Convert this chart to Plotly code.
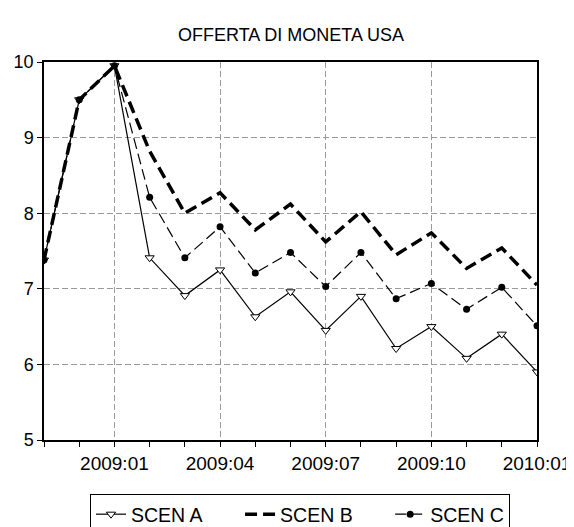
import plotly.graph_objects as go

months = ["2008:11", "2008:12", "2009:01", "2009:02", "2009:03", "2009:04", "2009:05",
          "2009:06", "2009:07", "2009:08", "2009:09", "2009:10", "2009:11", "2009:12", "2010:01"]
scen_a = [7.38, 9.50, 9.95, 7.41, 6.91, 7.25, 6.63, 6.96, 6.45, 6.90, 6.21, 6.50, 6.08, 6.40, 5.90]
scen_b = [7.38, 9.50, 9.95, 8.82, 8.00, 8.27, 7.78, 8.12, 7.62, 8.02, 7.45, 7.74, 7.27, 7.54, 7.05]
scen_c = [7.38, 9.50, 9.95, 8.21, 7.41, 7.82, 7.21, 7.48, 7.03, 7.48, 6.87, 7.07, 6.73, 7.02, 6.51]
series_names = ["SCEN A", "SCEN B", "SCEN C"]
tick_labels = ["2009:01", "2009:04", "2009:07", "2009:10", "2010:01"]
y_ticks = [5, 6, 7, 8, 9, 10]

x = list(range(len(months)))
tickvals = [months.index(m) for m in tick_labels]

FONT = "Liberation Sans, Arial, Helvetica, sans-serif"
W, H = 566, 519  # page has an 8px body margin
PAD = "\u00a0" * 6  # spacing between legend entries

fig = go.Figure()
fig.add_trace(go.Scatter(
    x=x, y=scen_a, name=series_names[0] + PAD, mode="lines+markers",
    line=dict(color="black", width=1.2),
    marker=dict(symbol="triangle-down", size=8, color="white",
                line=dict(color="black", width=1)),
))
fig.add_trace(go.Scatter(
    x=x, y=scen_b, name=series_names[1] + PAD, mode="lines",
    line=dict(color="black", width=3.5, dash="12px,6px"),
))
fig.add_trace(go.Scatter(
    x=x, y=scen_c, name=series_names[2], mode="lines+markers",
    line=dict(color="black", width=1.2, dash="11px,5px"),
    marker=dict(symbol="circle", size=7, color="black"),
))

fig.update_layout(
    width=W, height=H,
    margin=dict(l=36, r=37, t=54, b=87, autoexpand=False),
    paper_bgcolor="white", plot_bgcolor="white",
    font=dict(family=FONT, color="black", size=17),
    title=dict(text="OFFERTA DI MONETA USA", x=0.5, xanchor="center",
               xref="container", yref="container",
               y=1 - 27 / H, yanchor="middle",
               font=dict(family=FONT, size=18, color="black")),
    showlegend=True,
    legend=dict(orientation="h", x=(82 - 36) / 493, xanchor="left",
                y=-54 / 378, yanchor="top",
                bordercolor="black", borderwidth=1,
                font=dict(family=FONT, size=19.5, color="black"),
                bgcolor="white", itemwidth=30),
)

fig.update_xaxes(
    range=[0, len(months) - 1], automargin=False,
    tickmode="array", tickvals=tickvals, ticktext=tick_labels,
    ticks="outside", ticklen=5, tickcolor="black", tickwidth=1,
    tickfont=dict(family=FONT, size=19, color="black"),
    showline=True, linecolor="black", linewidth=1.5, mirror=True,
    showgrid=True, gridcolor="#9a9a9a", gridwidth=1, griddash="6px,3px",
    zeroline=False,
    minor=dict(dtick=1, tick0=0, ticks="outside", ticklen=5,
               tickcolor="black", tickwidth=1, showgrid=False),
)
fig.update_yaxes(
    range=[5, 10], automargin=False,
    tickmode="array", tickvals=y_ticks,
    ticks="outside", ticklen=5, tickcolor="black", tickwidth=1,
    tickfont=dict(family=FONT, size=18, color="black"),
    showline=True, linecolor="black", linewidth=1.5, mirror=True,
    showgrid=True, gridcolor="#9a9a9a", gridwidth=1, griddash="6px,3px",
    zeroline=False,
)

fig.write_html("out.html")
